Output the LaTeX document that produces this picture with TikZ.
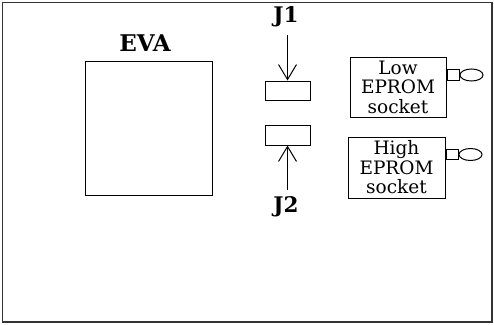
\documentclass[tikz,border=0pt]{standalone}
\usepackage{fontspec}
\setmainfont{DejaVu Serif}
\usetikzlibrary{arrows.meta,shapes.geometric}
\begin{document}
\begin{tikzpicture}[x=1pt,y=-1pt,
  box/.style={draw=black,line width=1pt,inner sep=0pt},
  lbl/.style={font=\fontsize{21.5}{24}\selectfont\bfseries,inner sep=0pt},
  sockettext/.style={font=\fontsize{18.5}{19.5}\selectfont,align=center,inner sep=0pt},
  arr/.style={line width=1pt,-{Straight Barb[length=15pt,width=18pt,line width=1pt]}},
  plug/.style={draw=black,line width=1pt,inner sep=0pt,minimum width=12pt,minimum height=10.5pt},
  knob/.style={draw=black,line width=1pt,ellipse,inner sep=0pt,minimum width=23pt,minimum height=12pt}
]
\useasboundingbox (0,0) rectangle (494,324);
\draw[line width=1.4pt,draw=black!80] (2.7,2.7) rectangle (492,322);
% EVA
\node[box,minimum width=127pt,minimum height=134pt] (eva) at (148.5,128) {};
\node[lbl,font=\fontsize{23}{26}\selectfont\bfseries] (evalbl) at (145,43.5) {EVA};
% jumpers
\node[box,minimum width=45pt,minimum height=19pt] (j1) at (287.5,90.5) {};
\node[box,minimum width=45pt,minimum height=20pt] (j2) at (287.5,135) {};
\node[lbl] (j1lbl) at (286,16.5) {J1};
\node[lbl] (j2lbl) at (286,207) {J2};
\coordinate (j1s) at (287.5,35);
\coordinate (j2s) at (287.5,190);
\draw[arr] (j1s) -- (j1.north);
\draw[arr] (j2s) -- (j2.south);
% EPROM sockets
\node[box,minimum width=96pt,minimum height=60pt] (low) at (398,87) {};
\node[sockettext] (lowtxt) at (low.center) {Low\\EPROM\\socket};
\node[box,minimum width=97pt,minimum height=61pt] (high) at (396.5,167.5) {};
\node[sockettext] (hightxt) at (high.center) {High\\EPROM\\socket};
\node[plug,anchor=west] (lowplug) at (low.east |- 0,75) {};
\node[knob,anchor=west] (lowknob) at (lowplug.east) {};
\node[plug,anchor=west] (highplug) at (high.east |- 0,154.5) {};
\node[knob,anchor=west] (highknob) at (highplug.east) {};
\end{tikzpicture}
\end{document}
